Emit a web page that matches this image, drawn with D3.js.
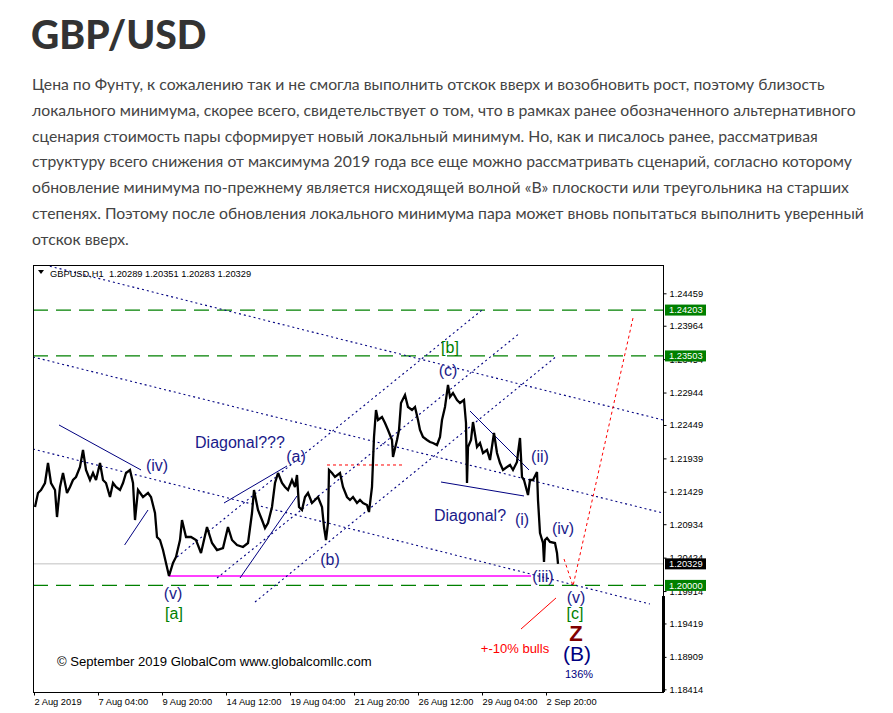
<!DOCTYPE html>
<html><head><meta charset="utf-8">
<script src="https://cdn.jsdelivr.net/npm/d3@7"></script>
<style>
body{margin:0;background:#fff;}
svg{display:block;}
</style></head><body>
<svg id="c" width="893" height="713"></svg>
<script>
// ---------- DATA ----------
const titleText = "GBP/USD";
const paragraph = [
  "Цена по Фунту, к сожалению так и не смогла выполнить отскок вверх и возобновить рост, поэтому близость",
  "локального минимума, скорее всего, свидетельствует о том, что в рамках ранее обозначенного альтернативного",
  "сценария стоимость пары сформирует новый локальный минимум. Но, как и писалось ранее, рассматривая",
  "структуру всего снижения от максимума 2019 года все еще можно рассматривать сценарий, согласно которому",
  "обновление минимума по-прежнему является нисходящей волной «B» плоскости или треугольника на старших",
  "степенях. Поэтому после обновления локального минимума пара может вновь попытаться выполнить уверенный",
  "отскок вверх."
];
const symbolHeader = "GBPUSD,H1";
const ohlcLast = ["1.20289", "1.20351", "1.20283", "1.20329"];
const yTicks = [1.24459, 1.23964, 1.23454, 1.22944, 1.22449, 1.21939, 1.21429, 1.20934, 1.20424, 1.19914, 1.19419, 1.18909, 1.18414];
const xTickIdx = [0, 64, 128, 192, 256, 320, 384, 448, 512];
const xTickLabels = ["2 Aug 2019", "7 Aug 04:00", "9 Aug 20:00", "14 Aug 12:00", "19 Aug 04:00", "21 Aug 20:00", "26 Aug 12:00", "29 Aug 04:00", "2 Sep 20:00"];
// hourly bar index (from 2 Aug 12:00) and price samples of the H1 series
const priceIdx = [1,4,7,11,14,17,21,23,26,29,
  33,36,39,42,46,49,52,56,59,62,
  66,69,72,76,79,82,86,89,92,96,
  99,101,104,109,114,117,121,123,126,129,
  132,135,139,142,146,148,152,157,162,167,
  170,173,178,183,189,194,198,203,209,214,
  218,220,224,228,231,234,238,241,244,248,
  251,254,258,261,263,265,268,271,274,278,
  281,284,288,290,292,294,295,298,301,306,
  309,313,316,319,323,326,329,333,335,338,
  340,342,344,348,351,354,358,359,363,365,
  367,371,374,378,381,384,386,389,393,396,
  399,403,406,408,411,414,416,419,423,426,
  430,432,433,434,437,439,443,446,449,453,
  456,460,463,466,469,473,476,479,483,484,
  486,488,490,494,496,499,503,504,506,509,
  510,511,513,516,521,523,524];
const priceVal = [1.21197,1.21411,1.21456,1.21563,1.21868,1.21563,1.21456,1.21044,1.21502,1.21716,
  1.21411,1.21502,1.21609,1.21655,1.21807,1.22067,1.21762,1.21609,1.21716,1.21609,
  1.21868,1.21609,1.21563,1.21349,1.21563,1.21502,1.21456,1.21563,1.21716,1.21762,
  1.21563,1.20998,1.21456,1.21349,1.21411,1.21349,1.21105,1.20739,1.20693,1.20540,
  1.20342,1.20144,1.20342,1.20434,1.20693,1.20998,1.20739,1.20739,1.20693,1.20495,
  1.20693,1.20891,1.20647,1.20540,1.20571,1.20891,1.20693,1.20617,1.20586,1.20647,
  1.21105,1.21456,1.21151,1.20998,1.20876,1.20953,1.21197,1.21563,1.21716,1.21563,
  1.21502,1.21456,1.21609,1.21502,1.21685,1.21197,1.21151,1.21349,1.21411,1.21258,
  1.21304,1.21349,1.21197,1.20891,1.20693,1.20953,1.21762,1.21716,1.21655,1.21716,
  1.21502,1.21349,1.21304,1.21349,1.21258,1.21304,1.21258,1.21227,1.21120,1.21502,
  1.22265,1.22677,1.22525,1.22571,1.22479,1.22372,1.22220,1.21960,1.22220,1.22372,
  1.22784,1.22906,1.22723,1.22677,1.22723,1.22525,1.22372,1.22265,1.22220,1.22189,
  1.22174,1.22143,1.22265,1.22525,1.22723,1.23059,1.22876,1.22937,1.22830,1.22784,
  1.22830,1.22479,1.21563,1.22113,1.22220,1.22494,1.22113,1.22174,1.22021,1.22067,
  1.21914,1.22326,1.22021,1.21868,1.21762,1.21807,1.21838,1.21762,1.21884,1.22021,
  1.22250,1.21655,1.21609,1.21380,1.21609,1.21609,1.21731,1.21304,1.20800,1.20647,
  1.20357,1.20693,1.20724,1.20663,1.20647,1.20495,1.20329];
const greenLevels = [1.24203, 1.23503, 1.20000];
const bidLevel = 1.20329;
const supportLevel = 1.20144;      // magenta
const supportRange = [135, 497];
const redLevel = 1.21838;          // short red dashed
const redLevelRange = [293, 369];
// channel lines [idx1, price1, idx2, price2]
const descDotted = [[11,1.24891,629,1.22525],[-1,1.23487,629,1.21105],[-1,1.22082,616,1.19716]];
const ascDotted = [[143,1.20434,448,1.24203],[183,1.20113,486,1.23853],[221,1.19747,523,1.23503]];
const solidLines = [[25,1.22449,107,1.21762],[90.6,1.20617,114,1.21151],[190,1.21258,253,1.21823],
  [206,1.20113,263,1.21365],[436,1.22662,495,1.21762],[407,1.21578,490,1.21365]];
const projection = [[530,1.20403],[539,1.19991],[599,1.24082]];
const bullsLine = [487,1.19334,522,1.19808];
// wave labels: text, idx, price, kind
const waveLabels = [
  ["(iv)",123,1.21838,"n"],["Diagonal???",206,1.22189,"n"],["(a)",262,1.21975,"n"],
  ["(b)",296,1.20403,"n"],["(c)",414,1.23288,"n"],["[b]",416,1.23639,"g"],
  ["(v)",139,1.19884,"n"],["[a]",140,1.19579,"g"],["Diagonal?",436,1.21075,"n"],
  ["(i)",488,1.21014,"n"],["(ii)",506,1.21975,"n"],["(iv)",529,1.20876,"n"],
  ["(iii)",509,1.20144,"n"],["(v)",542,1.19823,"n"],["[c]",541,1.19579,"g"],
  ["Z",542,1.19273,"z"],["(B)",543,1.18968,"B"],["136%",545,1.18648,"p"],
  ["+-10% bulls",481,1.19044,"r"]
];
const copyright = "© September 2019 GlobalCom www.globalcomllc.com";

// ---------- LAYOUT ----------
const svg = d3.select("#c");
const L = 33, T = 265, R = 663, B = 692;
const x = d3.scaleLinear().domain([-1, 629]).range([L, R]);
const y = d3.scaleLinear().domain([1.18414, 1.24459]).range([689.3, 293.3]);
const navy = "#1a1a8a";
const chartFont = "Liberation Sans, Arial";

// title + text
svg.append("text").attr("x", 31).attr("y", 49).text(titleText)
  .style("font-family", "Lato").style("font-weight", 900).style("font-size", "39px").attr("fill", "#333");
svg.append("g").selectAll("text").data(paragraph).join("text")
  .attr("x", 32).attr("y", (d, i) => 90 + i * 25.8).text(d => d)
  .style("font-family", "Lato").style("font-size", "15.75px").attr("fill", "#444");

// clip
svg.append("clipPath").attr("id", "pc").append("rect").attr("x", L).attr("y", T).attr("width", R - L).attr("height", B - T);
const g = svg.append("g").attr("clip-path", "url(#pc)");

// horizontal levels
g.append("line").attr("x1", L).attr("x2", R).attr("y1", y(bidLevel)).attr("y2", y(bidLevel)).attr("stroke", "#c0c0c0");
g.selectAll(".gl").data(greenLevels).join("line").attr("x1", L).attr("x2", R)
  .attr("y1", d => y(d)).attr("y2", d => y(d)).attr("stroke", "#008000").attr("stroke-width", 1.3).attr("stroke-dasharray", "15,8");
g.append("line").attr("x1", x(supportRange[0])).attr("x2", x(supportRange[1]))
  .attr("y1", y(supportLevel)).attr("y2", y(supportLevel)).attr("stroke", "#ff00ff").attr("stroke-width", 1.5);
g.append("line").attr("x1", x(redLevelRange[0])).attr("x2", x(redLevelRange[1]))
  .attr("y1", y(redLevel)).attr("y2", y(redLevel)).attr("stroke", "#ff0000").attr("stroke-dasharray", "3,3");

// channels
g.selectAll(".dd").data(descDotted).join("line")
  .attr("x1", d => x(d[0])).attr("y1", d => y(d[1])).attr("x2", d => x(d[2])).attr("y2", d => y(d[3]))
  .attr("stroke", "#000080").attr("stroke-width", 1.1).attr("stroke-dasharray", "2,3");
g.selectAll(".ad").data(ascDotted).join("line")
  .attr("x1", d => x(d[0])).attr("y1", d => y(d[1])).attr("x2", d => x(d[2])).attr("y2", d => y(d[3]))
  .attr("stroke", "#000080").attr("stroke-width", 1.1).attr("stroke-dasharray", "2,3");
g.selectAll(".sl").data(solidLines).join("line")
  .attr("x1", d => x(d[0])).attr("y1", d => y(d[1])).attr("x2", d => x(d[2])).attr("y2", d => y(d[3]))
  .attr("stroke", "#000080").attr("stroke-width", 1);

// price
const line = d3.line().x((d, i) => x(priceIdx[i])).y(d => y(d));
g.append("path").datum(priceVal).attr("d", line).attr("fill", "none").attr("stroke", "#000")
  .attr("stroke-width", 2.3).attr("stroke-linejoin", "miter").attr("stroke-miterlimit", 3);

// projections
g.append("path").datum(projection).attr("d", d3.line().x(d => x(d[0])).y(d => y(d[1])))
  .attr("fill", "none").attr("stroke", "#ff0000").attr("stroke-dasharray", "3,3");
g.append("line").attr("x1", x(bullsLine[0])).attr("y1", y(bullsLine[1])).attr("x2", x(bullsLine[2])).attr("y2", y(bullsLine[3]))
  .attr("stroke", "#ff0000");

// wave labels
const styles = {
  n: {fill: navy, size: 16, weight: 400},
  g: {fill: "#008000", size: 16, weight: 400},
  z: {fill: "#800000", size: 22, weight: 700},
  B: {fill: "#000080", size: 21, weight: 400},
  p: {fill: "#000080", size: 11, weight: 400},
  r: {fill: "#ff0000", size: 13, weight: 400}
};
svg.append("g").selectAll("text").data(waveLabels).join("text")
  .attr("x", d => x(d[1])).attr("y", d => y(d[2])).attr("dy", "0.36em").attr("text-anchor", "middle")
  .text(d => d[0]).attr("fill", d => styles[d[3]].fill)
  .style("font-family", chartFont).style("font-size", d => styles[d[3]].size + "px")
  .style("font-weight", d => styles[d[3]].weight);
svg.append("text").attr("x", 57).attr("y", 666).text(copyright)
  .style("font-family", chartFont).style("font-size", "13.1px").attr("fill", "#000");

// header
svg.append("path").attr("d", "M38,270 L44,270 L41,274 Z").attr("fill", "#000");
svg.append("text").attr("x", 50).attr("y", 277).text(symbolHeader + "  " + ohlcLast.join(" "))
  .attr("xml:space", "preserve").style("white-space", "pre")
  .style("font-family", chartFont).style("font-size", "9.3px").attr("fill", "#000");

// frame
svg.append("rect").attr("x", L + 0.5).attr("y", T + 0.5).attr("width", R - L).attr("height", B - T)
  .attr("fill", "none").attr("stroke", "#000");

// axes
const yAxis = d3.axisRight(y).tickValues(yTicks).tickSize(3).tickPadding(3).tickFormat(d3.format(".5f"));
const ya = svg.append("g").attr("transform", `translate(${R + 0.5},0)`).call(yAxis);
ya.select(".domain").remove();
ya.selectAll("text").style("font-family", chartFont).style("font-size", "9.3px").attr("fill", "#000");
ya.selectAll("line").attr("stroke", "#000");

const xAxis = d3.axisBottom(x).tickValues(xTickIdx).tickSize(3).tickFormat((d, i) => xTickLabels[i]);
const xa = svg.append("g").attr("transform", `translate(0,${B + 0.5})`).call(xAxis);
xa.select(".domain").remove();
xa.selectAll("text").attr("text-anchor", "start").attr("y", 6)
  .style("font-family", chartFont).style("font-size", "9.3px").attr("fill", "#000");
xa.selectAll("line").attr("stroke", "#000");

// scroll marker on right
svg.append("rect").attr("x", R - 1).attr("y", y(1.19914) + 5).attr("width", 3).attr("height", B - y(1.19914) - 5).attr("fill", "#000");

// price tags
const tags = greenLevels.map(v => ({v, bg: "#008000"})).concat([{v: bidLevel, bg: "#000"}]);
const tg = svg.append("g").selectAll("g").data(tags).join("g").attr("transform", d => `translate(665,${y(d.v)})`);
tg.append("rect").attr("x", 0).attr("y", -5.5).attr("width", 41).attr("height", 11).attr("fill", d => d.bg);
tg.append("text").attr("x", 4).attr("dy", "0.35em").text(d => d3.format(".5f")(d.v))
  .style("font-family", chartFont).style("font-size", "9.3px").attr("fill", "#fff");
</script>
</body></html>
